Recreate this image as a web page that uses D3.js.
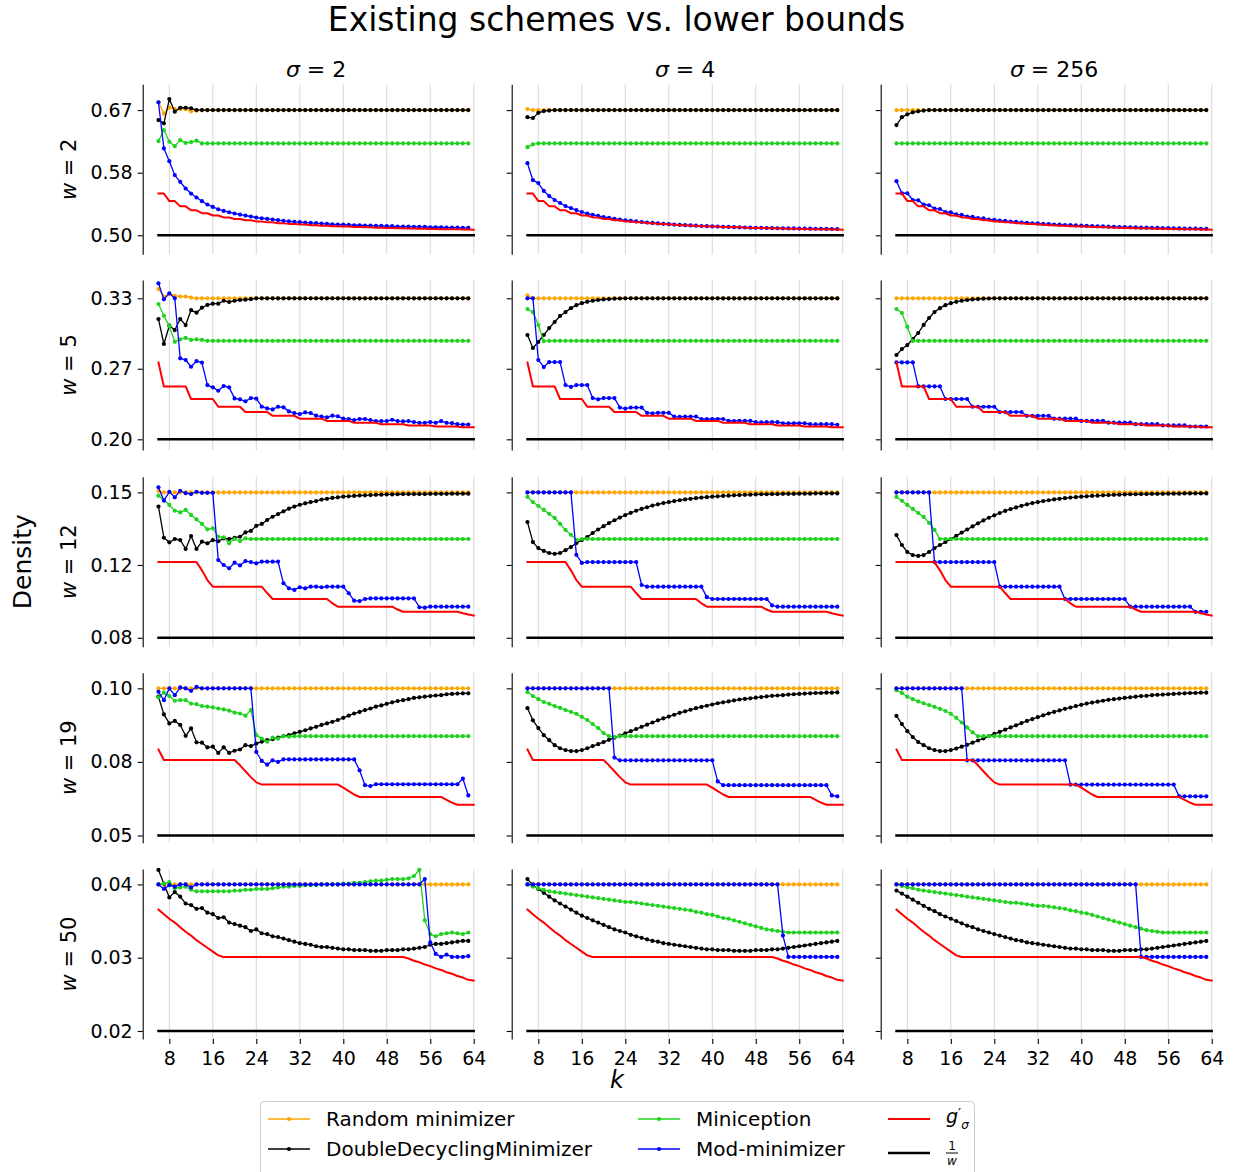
<!DOCTYPE html>
<html>
<head>
<meta charset="utf-8">
<script src="https://cdn.jsdelivr.net/npm/d3@7"></script>
<style>
body { margin: 0; background: #fff; }
svg text { font-family: "DejaVu Sans", sans-serif; fill: #000; }
</style>
</head>
<body>
<svg id="chart" width="1233" height="1172"></svg>
<script>
// k values: minimizer series run 6..63, bound lines 6..64
const kSeries = [6,7,8,9,10,11,12,13,14,15,16,17,18,19,20,21,22,23,24,25,26,27,28,29,30,31,32,33,34,35,
  36,37,38,39,40,41,42,43,44,45,46,47,48,49,50,51,52,53,54,55,56,57,58,59,60,61,62,63];
const kBound = [6,7,8,9,10,11,12,13,14,15,16,17,18,19,20,21,22,23,24,25,26,27,28,29,30,31,32,33,34,35,
  36,37,38,39,40,41,42,43,44,45,46,47,48,49,50,51,52,53,54,55,56,57,58,59,60,61,62,63,64];
const xTicks = [8,16,24,32,40,48,56,64];
const sigmas = ['2', '4', '256'];
const windows = [2, 5, 12, 19, 50];
const invW = [0.5, 0.2, 0.0833, 0.0526, 0.02];
const yTicks = [[0.5, 0.5833, 0.6667], [0.2, 0.2667, 0.3333], [0.0833, 0.1186, 0.1538],
  [0.0526, 0.0763, 0.1], [0.02, 0.0296, 0.0392]];

// ---------- w = 2 ----------
const red_w2 = [.5556,.5556,.5455,.5455,.5385,.5385,.5333,.5333,.5294,.5294,
  .5263,.5263,.5238,.5238,.5217,.5217,.5200,.5200,.5185,.5185,
  .5172,.5172,.5161,.5161,.5152,.5152,.5143,.5143,.5135,.5135,
  .5128,.5128,.5122,.5122,.5116,.5116,.5111,.5111,.5106,.5106,
  .5102,.5102,.5098,.5098,.5094,.5094,.5091,.5091,.5088,.5088,
  .5085,.5085,.5082,.5082,.5079,.5079,.5077,.5077,.5075];

const rnd_w2_s2 = [.677,.662,.670,.668,.668,.668,.665,.666,.6667,.6667,
  .6667,.6667,.6667,.6667,.6667,.6667,.6667,.6667,.6667,.6667,
  .6667,.6667,.6667,.6667,.6667,.6667,.6667,.6667,.6667,.6667,
  .6667,.6667,.6667,.6667,.6667,.6667,.6667,.6667,.6667,.6667,
  .6667,.6667,.6667,.6667,.6667,.6667,.6667,.6667,.6667,.6667,
  .6667,.6667,.6667,.6667,.6667,.6667,.6667,.6667];
const ddm_w2_s2 = [.6534,.649,.6814,.6645,.6698,.6698,.669,.6667,.6667,.6667,
  .6667,.6667,.6667,.6667,.6667,.6667,.6667,.6667,.6667,.6667,
  .6667,.6667,.6667,.6667,.6667,.6667,.6667,.6667,.6667,.6667,
  .6667,.6667,.6667,.6667,.6667,.6667,.6667,.6667,.6667,.6667,
  .6667,.6667,.6667,.6667,.6667,.6667,.6667,.6667,.6667,.6667,
  .6667,.6667,.6667,.6667,.6667,.6667,.6667,.6667];
const mini_w2_s2 = [.6254,.6401,.6245,.6187,.6267,.623,.624,.626,.6223,.6223,
  .6223,.6223,.6223,.6223,.6223,.6223,.6223,.6223,.6223,.6223,
  .6223,.6223,.6223,.6223,.6223,.6223,.6223,.6223,.6223,.6223,
  .6223,.6223,.6223,.6223,.6223,.6223,.6223,.6223,.6223,.6223,
  .6223,.6223,.6223,.6223,.6223,.6223,.6223,.6223,.6223,.6223,
  .6223,.6223,.6223,.6223,.6223,.6223,.6223,.6223];
const mod_w2_s2 = [.6770,.6156,.5987,.5801,.5712,.5623,.5556,.5503,.5454,.5410,
  .5378,.5347,.5325,.5307,.5290,.5276,.5263,.5250,.5236,.5227,
  .5218,.5210,.5201,.5192,.5187,.5178,.5174,.5170,.5165,.5161,
  .5156,.5152,.5147,.5143,.5143,.5138,.5134,.5134,.5129,.5129,
  .5125,.5125,.5121,.5121,.5116,.5116,.5116,.5112,.5112,.5112,
  .5107,.5107,.5107,.5103,.5103,.5103,.5098,.5098];

const rnd_w2_s4 = [.668,.6667,.6667,.6667,.6667,.6667,.6667,.6667,.6667,.6667,
  .6667,.6667,.6667,.6667,.6667,.6667,.6667,.6667,.6667,.6667,
  .6667,.6667,.6667,.6667,.6667,.6667,.6667,.6667,.6667,.6667,
  .6667,.6667,.6667,.6667,.6667,.6667,.6667,.6667,.6667,.6667,
  .6667,.6667,.6667,.6667,.6667,.6667,.6667,.6667,.6667,.6667,
  .6667,.6667,.6667,.6667,.6667,.6667,.6667,.6667];
const ddm_w2_s4 = [.6573,.656,.663,.6654,.666,.6667,.6667,.6667,.6667,.6667,
  .6667,.6667,.6667,.6667,.6667,.6667,.6667,.6667,.6667,.6667,
  .6667,.6667,.6667,.6667,.6667,.6667,.6667,.6667,.6667,.6667,
  .6667,.6667,.6667,.6667,.6667,.6667,.6667,.6667,.6667,.6667,
  .6667,.6667,.6667,.6667,.6667,.6667,.6667,.6667,.6667,.6667,
  .6667,.6667,.6667,.6667,.6667,.6667,.6667,.6667];
const mini_w2_s4 = [.6173,.621,.6223,.6223,.6223,.6223,.6223,.6223,.6223,.6223,
  .6223,.6223,.6223,.6223,.6223,.6223,.6223,.6223,.6223,.6223,
  .6223,.6223,.6223,.6223,.6223,.6223,.6223,.6223,.6223,.6223,
  .6223,.6223,.6223,.6223,.6223,.6223,.6223,.6223,.6223,.6223,
  .6223,.6223,.6223,.6223,.6223,.6223,.6223,.6223,.6223,.6223,
  .6223,.6223,.6223,.6223,.6223,.6223,.6223,.6223];
const mod_w2_s4 = [.596,.5735,.5695,.559,.5522,.547,.543,.5389,.5363,.5336,
  .531,.5290,.5272,.5258,.5243,.5232,.5220,.5210,.5200,.5192,
  .5184,.5177,.5170,.5164,.5158,.5153,.5148,.5143,.5139,.5135,
  .5131,.5128,.5124,.5121,.5118,.5116,.5113,.5111,.5108,.5106,
  .5104,.5102,.5100,.5099,.5097,.5096,.5094,.5093,.5092,.5091,
  .5090,.5089,.5088,.5087,.5086,.5085,.5084,.5083];

const rnd_w2_s256 = [.6667,.6667,.6667,.6667,.6667,.6667,.6667,.6667,.6667,.6667,
  .6667,.6667,.6667,.6667,.6667,.6667,.6667,.6667,.6667,.6667,
  .6667,.6667,.6667,.6667,.6667,.6667,.6667,.6667,.6667,.6667,
  .6667,.6667,.6667,.6667,.6667,.6667,.6667,.6667,.6667,.6667,
  .6667,.6667,.6667,.6667,.6667,.6667,.6667,.6667,.6667,.6667,
  .6667,.6667,.6667,.6667,.6667,.6667,.6667,.6667];
const ddm_w2_s256 = [.6467,.6573,.661,.6637,.665,.666,.6667,.6667,.6667,.6667,
  .6667,.6667,.6667,.6667,.6667,.6667,.6667,.6667,.6667,.6667,
  .6667,.6667,.6667,.6667,.6667,.6667,.6667,.6667,.6667,.6667,
  .6667,.6667,.6667,.6667,.6667,.6667,.6667,.6667,.6667,.6667,
  .6667,.6667,.6667,.6667,.6667,.6667,.6667,.6667,.6667,.6667,
  .6667,.6667,.6667,.6667,.6667,.6667,.6667,.6667];
const mini_w2_s256 = [.6223,.6223,.6223,.6223,.6223,.6223,.6223,.6223,.6223,.6223,
  .6223,.6223,.6223,.6223,.6223,.6223,.6223,.6223,.6223,.6223,
  .6223,.6223,.6223,.6223,.6223,.6223,.6223,.6223,.6223,.6223,
  .6223,.6223,.6223,.6223,.6223,.6223,.6223,.6223,.6223,.6223,
  .6223,.6223,.6223,.6223,.6223,.6223,.6223,.6223,.6223,.6223,
  .6223,.6223,.6223,.6223,.6223,.6223,.6223,.6223];
const mod_w2_s256 = [.572,.556,.556,.547,.5465,.541,.540,.5355,.535,.531,
  .5305,.5278,.5272,.5250,.5245,.5228,.5224,.5210,.5206,.5195,
  .5192,.5182,.5179,.5170,.5167,.5160,.5158,.5152,.5150,.5144,
  .5142,.5137,.5135,.5131,.5129,.5125,.5123,.5120,.5118,.5115,
  .5113,.5110,.5109,.5106,.5105,.5102,.5101,.5099,.5098,.5096,
  .5095,.5093,.5092,.5090,.5089,.5088,.5087,.5086];

// ---------- w = 5 ----------
const red_w5 = [.2727,.25,.25,.25,.25,.25,.2381,.2381,.2381,.2381,
  .2381,.2308,.2308,.2308,.2308,.2308,.2258,.2258,.2258,.2258,
  .2258,.2222,.2222,.2222,.2222,.2222,.2195,.2195,.2195,.2195,
  .2195,.2174,.2174,.2174,.2174,.2174,.2157,.2157,.2157,.2157,
  .2157,.2143,.2143,.2143,.2143,.2143,.2131,.2131,.2131,.2131,
  .2131,.2121,.2121,.2121,.2121,.2121,.2113,.2113,.2113];

const rnd_w5_s2 = [.342,.335,.3374,.3355,.335,.335,.334,.3333,.3333,.3333,
  .3333,.3333,.3333,.3333,.3333,.3333,.3333,.3333,.3333,.3333,
  .3333,.3333,.3333,.3333,.3333,.3333,.3333,.3333,.3333,.3333,
  .3333,.3333,.3333,.3333,.3333,.3333,.3333,.3333,.3333,.3333,
  .3333,.3333,.3333,.3333,.3333,.3333,.3333,.3333,.3333,.3333,
  .3333,.3333,.3333,.3333,.3333,.3333,.3333,.3333];
const ddm_w5_s2 = [.3137,.2901,.3074,.3033,.3137,.308,.3222,.3197,.3244,.327,
  .3282,.3282,.331,.3298,.331,.3317,.332,.3325,.3333,.3333,
  .3333,.3333,.3333,.3333,.3333,.3333,.3333,.3333,.3333,.3333,
  .3333,.3333,.3333,.3333,.3333,.3333,.3333,.3333,.3333,.3333,
  .3333,.3333,.3333,.3333,.3333,.3333,.3333,.3333,.3333,.3333,
  .3333,.3333,.3333,.3333,.3333,.3333,.3333,.3333];
const mini_w5_s2 = [.3279,.3168,.307,.2922,.2945,.2958,.294,.2945,.294,.2931,
  .2931,.2931,.2931,.2931,.2931,.2931,.2931,.2931,.2931,.2931,
  .2931,.2931,.2931,.2931,.2931,.2931,.2931,.2931,.2931,.2931,
  .2931,.2931,.2931,.2931,.2931,.2931,.2931,.2931,.2931,.2931,
  .2931,.2931,.2931,.2931,.2931,.2931,.2931,.2931,.2931,.2931,
  .2931,.2931,.2931,.2931,.2931,.2931,.2931,.2931];
const mod_w5_s2 = [.3475,.3323,.338,.3333,.2766,.275,.2686,.274,.2725,.2513,
  .2491,.2459,.2504,.2491,.2387,.2378,.2359,.2390,.2384,.2308,
  .2292,.2283,.2308,.2302,.2264,.2248,.2239,.2255,.2248,.2223,
  .2214,.2207,.2223,.2217,.2195,.2192,.2182,.2192,.2192,.2182,
  .2172,.2172,.2172,.2185,.2172,.2169,.2172,.2163,.2156,.2156,
  .2163,.2156,.2172,.2156,.2153,.2143,.2140,.2140];

const rnd_w5_s4 = [.336,.3333,.3333,.3333,.3333,.3333,.3333,.3333,.3333,.3333,
  .3333,.3333,.3333,.3333,.3333,.3333,.3333,.3333,.3333,.3333,
  .3333,.3333,.3333,.3333,.3333,.3333,.3333,.3333,.3333,.3333,
  .3333,.3333,.3333,.3333,.3333,.3333,.3333,.3333,.3333,.3333,
  .3333,.3333,.3333,.3333,.3333,.3333,.3333,.3333,.3333,.3333,
  .3333,.3333,.3333,.3333,.3333,.3333,.3333,.3333];
const ddm_w5_s4 = [.2986,.2863,.292,.2986,.3052,.3109,.3166,.3203,.3240,.3268,
  .3287,.3300,.3310,.3317,.3322,.3326,.3329,.3331,.3333,.3333,
  .3333,.3333,.3333,.3333,.3333,.3333,.3333,.3333,.3333,.3333,
  .3333,.3333,.3333,.3333,.3333,.3333,.3333,.3333,.3333,.3333,
  .3333,.3333,.3333,.3333,.3333,.3333,.3333,.3333,.3333,.3333,
  .3333,.3333,.3333,.3333,.3333,.3333,.3333,.3333];
const mini_w5_s4 = [.3232,.3203,.308,.2929,.2931,.2931,.2931,.2931,.2931,.2931,
  .2931,.2931,.2931,.2931,.2931,.2931,.2931,.2931,.2931,.2931,
  .2931,.2931,.2931,.2931,.2931,.2931,.2931,.2931,.2931,.2931,
  .2931,.2931,.2931,.2931,.2931,.2931,.2931,.2931,.2931,.2931,
  .2931,.2931,.2931,.2931,.2931,.2931,.2931,.2931,.2931,.2931,
  .2931,.2931,.2931,.2931,.2931,.2931,.2931,.2931];
const mod_w5_s4 = [.3333,.3333,.275,.2683,.273,.273,.273,.2513,.2495,.2513,
  .2513,.2513,.2390,.2378,.2390,.2390,.2390,.2300,.2290,.2300,
  .2300,.2300,.2250,.2245,.2250,.2250,.2250,.2215,.2212,.2215,
  .2215,.2215,.2192,.2190,.2192,.2192,.2192,.2175,.2173,.2175,
  .2175,.2175,.2162,.2160,.2162,.2162,.2162,.2152,.2150,.2152,
  .2152,.2152,.2143,.2142,.2143,.2143,.2143,.2137];

const rnd_w5_s256 = [.3333,.3333,.3333,.3333,.3333,.3333,.3333,.3333,.3333,.3333,
  .3333,.3333,.3333,.3333,.3333,.3333,.3333,.3333,.3333,.3333,
  .3333,.3333,.3333,.3333,.3333,.3333,.3333,.3333,.3333,.3333,
  .3333,.3333,.3333,.3333,.3333,.3333,.3333,.3333,.3333,.3333,
  .3333,.3333,.3333,.3333,.3333,.3333,.3333,.3333,.3333,.3333,
  .3333,.3333,.3333,.3333,.3333,.3333,.3333,.3333];
const ddm_w5_s256 = [.2797,.2853,.2891,.2948,.3005,.3081,.3147,.3203,.3240,.3268,
  .3287,.3300,.3310,.3317,.3322,.3326,.3329,.3331,.3333,.3333,
  .3333,.3333,.3333,.3333,.3333,.3333,.3333,.3333,.3333,.3333,
  .3333,.3333,.3333,.3333,.3333,.3333,.3333,.3333,.3333,.3333,
  .3333,.3333,.3333,.3333,.3333,.3333,.3333,.3333,.3333,.3333,
  .3333,.3333,.3333,.3333,.3333,.3333,.3333,.3333];
const mini_w5_s256 = [.3232,.3194,.3062,.2929,.2931,.2931,.2931,.2931,.2931,.2931,
  .2931,.2931,.2931,.2931,.2931,.2931,.2931,.2931,.2931,.2931,
  .2931,.2931,.2931,.2931,.2931,.2931,.2931,.2931,.2931,.2931,
  .2931,.2931,.2931,.2931,.2931,.2931,.2931,.2931,.2931,.2931,
  .2931,.2931,.2931,.2931,.2931,.2931,.2931,.2931,.2931,.2931,
  .2931,.2931,.2931,.2931,.2931,.2931,.2931,.2931];
const mod_w5_s256 = [.2727,.2727,.2727,.2727,.25,.25,.25,.25,.25,.2381,
  .2381,.2381,.2381,.2381,.2308,.2308,.2308,.2308,.2308,.2258,
  .2258,.2258,.2258,.2258,.2222,.2222,.2222,.2222,.2222,.2195,
  .2195,.2195,.2195,.2195,.2174,.2174,.2174,.2174,.2174,.2157,
  .2157,.2157,.2157,.2157,.2143,.2143,.2143,.2143,.2143,.2131,
  .2131,.2131,.2131,.2131,.2121,.2121,.2121,.2121];

// ---------- w = 12 ----------
const red_w12 = [.1200,.1200,.1200,.1200,.1200,.1200,.1200,.1200,.1160,.1113,
  .1081,.1081,.1081,.1081,.1081,.1081,.1081,.1081,.1081,.1081,
  .1050,.1021,.1021,.1021,.1021,.1021,.1021,.1021,.1021,.1021,
  .1021,.1021,.1000,.0984,.0984,.0984,.0984,.0984,.0984,.0984,
  .0984,.0984,.0984,.0984,.0970,.0959,.0959,.0959,.0959,.0959,
  .0959,.0959,.0959,.0959,.0959,.0959,.0952,.0946,.0941];

const rnd_w12_s2 = [.1545,.1538,.1538,.1538,.1538,.1538,.1538,.1538,.1538,.1538,
  .1538,.1538,.1538,.1538,.1538,.1538,.1538,.1538,.1538,.1538,
  .1538,.1538,.1538,.1538,.1538,.1538,.1538,.1538,.1538,.1538,
  .1538,.1538,.1538,.1538,.1538,.1538,.1538,.1538,.1538,.1538,
  .1538,.1538,.1538,.1538,.1538,.1538,.1538,.1538,.1538,.1538,
  .1538,.1538,.1538,.1538,.1538,.1538,.1538,.1538];
const ddm_w12_s2 = [.1469,.1318,.1296,.1312,.1307,.1264,.1326,.1264,.1299,.1291,
  .1307,.1301,.1315,.1312,.1318,.1323,.1344,.1351,.1376,.1385,
  .1404,.1420,.1433,.1446,.1459,.1469,.1478,.1485,.1491,.1496,
  .1503,.1507,.1511,.1514,.1517,.1519,.1521,.1523,.1524,.1525,
  .1526,.1527,.1528,.1528,.1529,.1530,.1530,.1530,.1530,.1530,
  .1531,.1531,.1531,.1531,.1532,.1532,.1532,.1532];
const mini_w12_s2 = [.1522,.1501,.1477,.1449,.1441,.1453,.1428,.1407,.1385,.1359,
  .1364,.1323,.1320,.1291,.1312,.1302,.1315,.1312,.1312,.1312,
  .1312,.1312,.1312,.1312,.1312,.1312,.1312,.1312,.1312,.1312,
  .1312,.1312,.1312,.1312,.1312,.1312,.1312,.1312,.1312,.1312,
  .1312,.1312,.1312,.1312,.1312,.1312,.1312,.1312,.1312,.1312,
  .1312,.1312,.1312,.1312,.1312,.1312,.1312,.1312];
const mod_w12_s2 = [.1563,.1498,.1541,.1514,.1546,.1534,.1530,.1541,.1536,.1536,
  .1536,.1210,.1186,.1170,.1197,.1184,.1205,.1200,.1194,.1202,
  .1202,.1202,.1202,.1097,.1073,.1065,.1078,.1073,.1081,.1081,
  .1078,.1081,.1081,.1081,.1081,.1049,.1013,.1011,.1021,.1024,
  .1024,.1024,.1024,.1024,.1024,.1024,.1024,.1024,.0981,.0979,
  .0984,.0984,.0984,.0984,.0984,.0984,.0984,.0984];

const rnd_w12_s4 = [.1538,.1538,.1538,.1538,.1538,.1538,.1538,.1538,.1538,.1538,
  .1538,.1538,.1538,.1538,.1538,.1538,.1538,.1538,.1538,.1538,
  .1538,.1538,.1538,.1538,.1538,.1538,.1538,.1538,.1538,.1538,
  .1538,.1538,.1538,.1538,.1538,.1538,.1538,.1538,.1538,.1538,
  .1538,.1538,.1538,.1538,.1538,.1538,.1538,.1538,.1538,.1538,
  .1538,.1538,.1538,.1538,.1538,.1538,.1538,.1538];
const ddm_w12_s4 = [.1394,.1297,.1268,.1254,.1244,.1240,.1244,.1258,.1273,.1292,
  .1307,.1321,.1341,.1358,.1374,.1389,.1403,.1416,.1428,.1439,
  .1449,.1458,.1466,.1474,.1480,.1486,.1491,.1496,.1500,.1504,
  .1507,.1510,.1513,.1515,.1517,.1519,.1521,.1522,.1524,.1525,
  .1526,.1527,.1528,.1529,.1529,.1530,.1530,.1531,.1531,.1531,
  .1532,.1532,.1532,.1533,.1533,.1533,.1533,.1533];
const mini_w12_s4 = [.1516,.1491,.1472,.1453,.1434,.1414,.1385,.1356,.1332,.1307,
  .1312,.1312,.1312,.1312,.1312,.1312,.1312,.1312,.1312,.1312,
  .1312,.1312,.1312,.1312,.1312,.1312,.1312,.1312,.1312,.1312,
  .1312,.1312,.1312,.1312,.1312,.1312,.1312,.1312,.1312,.1312,
  .1312,.1312,.1312,.1312,.1312,.1312,.1312,.1312,.1312,.1312,
  .1312,.1312,.1312,.1312,.1312,.1312,.1312,.1312];
const mod_w12_s4 = [.1538,.1538,.1538,.1538,.1538,.1538,.1538,.1538,.1538,.1235,
  .1196,.1200,.1200,.1200,.1200,.1200,.1200,.1200,.1200,.1200,
  .1200,.1089,.1081,.1081,.1081,.1081,.1081,.1081,.1081,.1081,
  .1081,.1081,.1081,.1030,.1021,.1021,.1021,.1021,.1021,.1021,
  .1021,.1021,.1021,.1021,.1021,.0990,.0984,.0984,.0984,.0984,
  .0984,.0984,.0984,.0984,.0984,.0984,.0984,.0984];

const rnd_w12_s256 = [.1538,.1538,.1538,.1538,.1538,.1538,.1538,.1538,.1538,.1538,
  .1538,.1538,.1538,.1538,.1538,.1538,.1538,.1538,.1538,.1538,
  .1538,.1538,.1538,.1538,.1538,.1538,.1538,.1538,.1538,.1538,
  .1538,.1538,.1538,.1538,.1538,.1538,.1538,.1538,.1538,.1538,
  .1538,.1538,.1538,.1538,.1538,.1538,.1538,.1538,.1538,.1538,
  .1538,.1538,.1538,.1538,.1538,.1538,.1538,.1538];
const ddm_w12_s256 = [.1331,.1283,.1249,.1234,.1230,.1234,.1249,.1268,.1283,.1297,
  .1312,.1327,.1343,.1358,.1373,.1388,.1402,.1415,.1427,.1438,
  .1448,.1457,.1465,.1473,.1480,.1486,.1491,.1496,.1500,.1504,
  .1507,.1510,.1513,.1515,.1517,.1519,.1521,.1522,.1524,.1525,
  .1526,.1527,.1528,.1529,.1529,.1530,.1530,.1531,.1531,.1531,
  .1532,.1532,.1532,.1533,.1533,.1533,.1533,.1533];
const mini_w12_s256 = [.1516,.1497,.1477,.1458,.1438,.1419,.1390,.1356,.1312,.1312,
  .1312,.1312,.1312,.1312,.1312,.1312,.1312,.1312,.1312,.1312,
  .1312,.1312,.1312,.1312,.1312,.1312,.1312,.1312,.1312,.1312,
  .1312,.1312,.1312,.1312,.1312,.1312,.1312,.1312,.1312,.1312,
  .1312,.1312,.1312,.1312,.1312,.1312,.1312,.1312,.1312,.1312,
  .1312,.1312,.1312,.1312,.1312,.1312,.1312,.1312];
const mod_w12_s256 = [.1538,.1538,.1538,.1538,.1538,.1538,.1538,.1200,.1200,.1200,
  .1200,.1200,.1200,.1200,.1200,.1200,.1200,.1200,.1200,.1081,
  .1081,.1081,.1081,.1081,.1081,.1081,.1081,.1081,.1081,.1081,
  .1081,.1021,.1021,.1021,.1021,.1021,.1021,.1021,.1021,.1021,
  .1021,.1021,.1021,.0984,.0984,.0984,.0984,.0984,.0984,.0984,
  .0984,.0984,.0984,.0984,.0984,.0959,.0959,.0959];

// ---------- w = 19 ----------
const red_w19 = [.0803,.0769,.0769,.0769,.0769,.0769,.0769,.0769,.0769,.0769,
  .0769,.0769,.0769,.0769,.0769,.0752,.0733,.0714,.0697,.0690,
  .0690,.0690,.0690,.0690,.0690,.0690,.0690,.0690,.0690,.0690,
  .0690,.0690,.0690,.0690,.0680,.0669,.0658,.0650,.0650,.0650,
  .0650,.0650,.0650,.0650,.0650,.0650,.0650,.0650,.0650,.0650,
  .0650,.0650,.0650,.0641,.0632,.0625,.0625,.0625,.0625];

const rnd_w19_s2 = [.1000,.1000,.1000,.1000,.1000,.1000,.1000,.1000,.1000,.1000,
  .1000,.1000,.1000,.1000,.1000,.1000,.1000,.1000,.1000,.1000,
  .1000,.1000,.1000,.1000,.1000,.1000,.1000,.1000,.1000,.1000,
  .1000,.1000,.1000,.1000,.1000,.1000,.1000,.1000,.1000,.1000,
  .1000,.1000,.1000,.1000,.1000,.1000,.1000,.1000,.1000,.1000,
  .1000,.1000,.1000,.1000,.1000,.1000,.1000,.1000];
const ddm_w19_s2 = [.0973,.0916,.0887,.0895,.0882,.0847,.0871,.0826,.0825,.0810,
  .0812,.0792,.0810,.0792,.0799,.0803,.0817,.0814,.0822,.0828,
  .0833,.0836,.0841,.0846,.0849,.0855,.0860,.0865,.0871,.0876,
  .0882,.0887,.0892,.0898,.0905,.0912,.0919,.0924,.0930,.0935,
  .0941,.0945,.0950,.0955,.0959,.0962,.0965,.0969,.0971,.0973,
  .0975,.0977,.0978,.0981,.0982,.0983,.0984,.0984];
const mini_w19_s2 = [.0971,.0986,.0975,.0960,.0962,.0962,.0951,.0949,.0943,.0941,
  .0939,.0935,.0932,.0928,.0922,.0919,.0912,.0930,.0849,.0838,
  .0828,.0841,.0838,.0846,.0844,.0846,.0846,.0846,.0846,.0846,
  .0846,.0846,.0846,.0846,.0846,.0846,.0846,.0846,.0846,.0846,
  .0846,.0846,.0846,.0846,.0846,.0846,.0846,.0846,.0846,.0846,
  .0846,.0846,.0846,.0846,.0846,.0846,.0846,.0846];
const mod_w19_s2 = [.0989,.0962,.1000,.0978,.1003,.1000,.0992,.1005,.1000,.1000,
  .1000,.1000,.1000,.1000,.1000,.1000,.1000,.1000,.0795,.0766,
  .0754,.0768,.0763,.0771,.0771,.0771,.0771,.0771,.0771,.0771,
  .0771,.0771,.0771,.0771,.0771,.0771,.0771,.0736,.0688,.0685,
  .0691,.0691,.0691,.0691,.0691,.0691,.0691,.0691,.0691,.0691,
  .0691,.0691,.0691,.0691,.0691,.0691,.0709,.0655];

const rnd_w19_s4 = rnd_w19_s2.map(v => v);
const ddm_w19_s4 = [.0936,.0897,.0872,.0849,.0833,.0817,.0807,.0801,.0798,.0798,
  .0801,.0807,.0814,.0820,.0827,.0834,.0841,.0848,.0855,.0862,
  .0869,.0876,.0883,.0890,.0897,.0903,.0909,.0915,.0921,.0926,
  .0931,.0936,.0940,.0944,.0948,.0952,.0955,.0958,.0961,.0964,
  .0966,.0968,.0970,.0972,.0974,.0976,.0977,.0978,.0980,.0981,
  .0982,.0983,.0984,.0985,.0985,.0986,.0986,.0987];
const mini_w19_s4 = [.0988,.0975,.0965,.0956,.0950,.0943,.0937,.0930,.0924,.0918,
  .0908,.0898,.0885,.0872,.0856,.0846,.0843,.0846,.0846,.0846,
  .0846,.0846,.0846,.0846,.0846,.0846,.0846,.0846,.0846,.0846,
  .0846,.0846,.0846,.0846,.0846,.0846,.0846,.0846,.0846,.0846,
  .0846,.0846,.0846,.0846,.0846,.0846,.0846,.0846,.0846,.0846,
  .0846,.0846,.0846,.0846,.0846,.0846,.0846,.0846];
const mod_w19_s4 = [.1000,.1000,.1000,.1000,.1000,.1000,.1000,.1000,.1000,.1000,
  .1000,.1000,.1000,.1000,.1000,.1000,.0777,.0768,.0768,.0768,
  .0768,.0768,.0768,.0768,.0768,.0768,.0768,.0768,.0768,.0768,
  .0768,.0768,.0768,.0768,.0768,.0700,.0688,.0688,.0688,.0688,
  .0688,.0688,.0688,.0688,.0688,.0688,.0688,.0688,.0688,.0688,
  .0688,.0688,.0688,.0688,.0688,.0688,.0655,.0652];

const rnd_w19_s256 = rnd_w19_s2.map(v => v);
const ddm_w19_s256 = [.0911,.0885,.0862,.0843,.0827,.0817,.0807,.0801,.0798,.0798,
  .0801,.0806,.0812,.0818,.0825,.0832,.0839,.0846,.0853,.0860,
  .0867,.0874,.0881,.0888,.0895,.0901,.0907,.0913,.0919,.0924,
  .0929,.0934,.0938,.0943,.0947,.0951,.0954,.0957,.0960,.0963,
  .0965,.0967,.0969,.0971,.0973,.0975,.0976,.0978,.0979,.0980,
  .0981,.0982,.0983,.0984,.0985,.0985,.0986,.0986];
const mini_w19_s256 = [.0994,.0985,.0973,.0965,.0958,.0952,.0946,.0940,.0934,.0927,
  .0918,.0905,.0890,.0874,.0858,.0846,.0846,.0846,.0846,.0846,
  .0846,.0846,.0846,.0846,.0846,.0846,.0846,.0846,.0846,.0846,
  .0846,.0846,.0846,.0846,.0846,.0846,.0846,.0846,.0846,.0846,
  .0846,.0846,.0846,.0846,.0846,.0846,.0846,.0846,.0846,.0846,
  .0846,.0846,.0846,.0846,.0846,.0846,.0846,.0846];
const mod_w19_s256 = [.1000,.1000,.1000,.1000,.1000,.1000,.1000,.1000,.1000,.1000,
  .1000,.1000,.1000,.0768,.0768,.0768,.0768,.0768,.0768,.0768,
  .0768,.0768,.0768,.0768,.0768,.0768,.0768,.0768,.0768,.0768,
  .0768,.0768,.0690,.0690,.0690,.0690,.0690,.0690,.0690,.0690,
  .0690,.0690,.0690,.0690,.0690,.0690,.0690,.0690,.0690,.0690,
  .0690,.0690,.0652,.0652,.0652,.0652,.0652,.0652];

// ---------- w = 50 ----------
const red_w50 = [.0359,.0353,.0347,.0342,.0336,.0330,.0325,.0319,.0314,.0309,
  .0304,.0299,.0297,.0297,.0297,.0297,.0297,.0297,.0297,.0297,
  .0297,.0297,.0297,.0297,.0297,.0297,.0297,.0297,.0297,.0297,
  .0297,.0297,.0297,.0297,.0297,.0297,.0297,.0297,.0297,.0297,
  .0297,.0297,.0297,.0297,.0297,.0297,.0295,.0292,.0290,.0287,
  .0285,.0282,.0280,.0277,.0275,.0272,.0270,.0267,.0266];

const rnd_w50_s2 = [.0392,.0392,.0392,.0392,.0392,.0392,.0392,.0392,.0392,.0392,
  .0392,.0392,.0392,.0392,.0392,.0392,.0392,.0392,.0392,.0392,
  .0392,.0392,.0392,.0392,.0392,.0392,.0392,.0392,.0392,.0392,
  .0392,.0392,.0392,.0392,.0392,.0392,.0392,.0392,.0392,.0392,
  .0392,.0392,.0392,.0392,.0392,.0392,.0392,.0392,.0392,.0392,
  .0392,.0392,.0392,.0392,.0392,.0392,.0392,.0392];
const ddm_w50_s2 = [.0411,.0393,.0375,.0382,.0376,.0367,.0365,.0360,.0361,.0355,
  .0353,.0348,.0349,.0342,.0340,.0338,.0336,.0331,.0333,.0328,
  .0327,.0324,.0323,.0321,.0319,.0317,.0315,.0314,.0313,.0311,
  .0310,.0310,.0309,.0308,.0307,.0307,.0306,.0306,.0306,.0305,
  .0305,.0305,.0306,.0306,.0306,.0307,.0307,.0308,.0309,.0310,
  .0313,.0314,.0314,.0315,.0316,.0317,.0318,.0318];
const mini_w50_s2 = [.0392,.0393,.0395,.0387,.0388,.0389,.0385,.0383,.0383,.0383,
  .0383,.0383,.0383,.0383,.0384,.0384,.0385,.0385,.0386,.0386,
  .0386,.0387,.0388,.0389,.0389,.0390,.0390,.0391,.0391,.0391,
  .0392,.0392,.0392,.0392,.0393,.0393,.0394,.0394,.0395,.0396,
  .0397,.0397,.0398,.0399,.0399,.0399,.0400,.0403,.0411,.0345,
  .0327,.0324,.0327,.0328,.0329,.0328,.0327,.0329];
const mod_w50_s2 = [.0392,.0386,.0391,.0389,.0392,.0392,.0388,.0392,.0392,.0392,
  .0392,.0392,.0392,.0392,.0392,.0392,.0392,.0392,.0392,.0392,
  .0392,.0392,.0392,.0392,.0392,.0392,.0392,.0392,.0392,.0392,
  .0392,.0392,.0392,.0392,.0392,.0392,.0392,.0392,.0392,.0392,
  .0392,.0392,.0392,.0392,.0392,.0392,.0392,.0392,.0392,.0399,
  .0316,.0301,.0297,.0300,.0297,.0297,.0297,.0298];

const rnd_w50_s4 = rnd_w50_s2.map(v => v);
const ddm_w50_s4 = [.0399,.0391,.0386,.0381,.0376,.0371,.0367,.0363,.0359,.0355,
  .0351,.0348,.0345,.0342,.0339,.0336,.0333,.0331,.0329,.0326,
  .0324,.0322,.0320,.0318,.0317,.0315,.0314,.0313,.0312,.0311,
  .0310,.0309,.0308,.0307,.0307,.0306,.0306,.0306,.0305,.0305,
  .0305,.0305,.0306,.0306,.0306,.0307,.0307,.0308,.0309,.0310,
  .0311,.0312,.0313,.0314,.0315,.0316,.0317,.0318];
const mini_w50_s4 = [.0392,.0389,.0387,.0385,.0383,.0382,.0381,.0380,.0379,.0378,
  .0377,.0376,.0375,.0374,.0373,.0372,.0371,.0370,.0369,.0369,
  .0368,.0367,.0366,.0365,.0364,.0363,.0362,.0361,.0360,.0359,
  .0358,.0356,.0355,.0353,.0352,.0350,.0348,.0347,.0345,.0343,
  .0341,.0339,.0337,.0335,.0333,.0332,.0331,.0330,.0329,.0329,
  .0329,.0329,.0329,.0329,.0329,.0329,.0329,.0329];
const mod_w50_s4 = [.0392,.0392,.0392,.0392,.0392,.0392,.0392,.0392,.0392,.0392,
  .0392,.0392,.0392,.0392,.0392,.0392,.0392,.0392,.0392,.0392,
  .0392,.0392,.0392,.0392,.0392,.0392,.0392,.0392,.0392,.0392,
  .0392,.0392,.0392,.0392,.0392,.0392,.0392,.0392,.0392,.0392,
  .0392,.0392,.0392,.0392,.0392,.0392,.0392,.0325,.0297,.0297,
  .0297,.0297,.0297,.0297,.0297,.0297,.0297,.0297];

const rnd_w50_s256 = rnd_w50_s2.map(v => v);
const ddm_w50_s256 = [.0384,.0380,.0376,.0372,.0368,.0364,.0360,.0357,.0353,.0350,
  .0347,.0344,.0341,.0338,.0336,.0333,.0331,.0329,.0327,.0325,
  .0323,.0321,.0319,.0318,.0316,.0315,.0314,.0313,.0312,.0311,
  .0310,.0309,.0308,.0308,.0307,.0307,.0306,.0306,.0306,.0305,
  .0305,.0305,.0306,.0306,.0306,.0307,.0307,.0308,.0309,.0310,
  .0311,.0312,.0313,.0314,.0315,.0316,.0317,.0318];
const mini_w50_s256 = [.0392,.0390,.0388,.0387,.0385,.0384,.0383,.0382,.0381,.0380,
  .0379,.0378,.0377,.0376,.0375,.0374,.0373,.0372,.0371,.0370,
  .0369,.0368,.0368,.0367,.0366,.0365,.0364,.0364,.0363,.0362,
  .0361,.0360,.0358,.0357,.0355,.0354,.0352,.0350,.0348,.0346,
  .0344,.0342,.0340,.0338,.0336,.0334,.0332,.0331,.0330,.0329,
  .0329,.0329,.0329,.0329,.0329,.0329,.0329,.0329];
const mod_w50_s256 = [.0392,.0392,.0392,.0392,.0392,.0392,.0392,.0392,.0392,.0392,
  .0392,.0392,.0392,.0392,.0392,.0392,.0392,.0392,.0392,.0392,
  .0392,.0392,.0392,.0392,.0392,.0392,.0392,.0392,.0392,.0392,
  .0392,.0392,.0392,.0392,.0392,.0392,.0392,.0392,.0392,.0392,
  .0392,.0392,.0392,.0392,.0392,.0297,.0297,.0297,.0297,.0297,
  .0297,.0297,.0297,.0297,.0297,.0297,.0297,.0297];

// ---------- assemble ----------
const boundRows = [red_w2, red_w5, red_w12, red_w19, red_w50];
const seriesRows = [
  [[rnd_w2_s2, ddm_w2_s2, mini_w2_s2, mod_w2_s2], [rnd_w2_s4, ddm_w2_s4, mini_w2_s4, mod_w2_s4], [rnd_w2_s256, ddm_w2_s256, mini_w2_s256, mod_w2_s256]],
  [[rnd_w5_s2, ddm_w5_s2, mini_w5_s2, mod_w5_s2], [rnd_w5_s4, ddm_w5_s4, mini_w5_s4, mod_w5_s4], [rnd_w5_s256, ddm_w5_s256, mini_w5_s256, mod_w5_s256]],
  [[rnd_w12_s2, ddm_w12_s2, mini_w12_s2, mod_w12_s2], [rnd_w12_s4, ddm_w12_s4, mini_w12_s4, mod_w12_s4], [rnd_w12_s256, ddm_w12_s256, mini_w12_s256, mod_w12_s256]],
  [[rnd_w19_s2, ddm_w19_s2, mini_w19_s2, mod_w19_s2], [rnd_w19_s4, ddm_w19_s4, mini_w19_s4, mod_w19_s4], [rnd_w19_s256, ddm_w19_s256, mini_w19_s256, mod_w19_s256]],
  [[rnd_w50_s2, ddm_w50_s2, mini_w50_s2, mod_w50_s2], [rnd_w50_s4, ddm_w50_s4, mini_w50_s4, mod_w50_s4], [rnd_w50_s256, ddm_w50_s256, mini_w50_s256, mod_w50_s256]]
];

const seriesNames = ['Random minimizer', 'DoubleDecyclingMinimizer', 'Miniception', 'Mod-minimizer'];
const seriesColors = ['#ffa500', '#000000', '#1ed21e', '#0000ff'];

// ---------- layout ----------
const colLeft = [142.7, 511.7, 880.7];
const axW = 346.8;
const xLim = [3.1, 66.9];
const rowTop = [84.3, 280, 476.7, 672.7, 869];
const axH = 170;
const yLims = [[0.4747, 0.701], [0.1899, 0.3506], [0.07897, 0.16141], [0.05027, 0.10504], [0.01895, 0.04122]];

const svg = d3.select('#chart');
svg.append('rect').attr('width', 1233).attr('height', 1172).attr('fill', '#fff');

const fmt = d3.format('.2f');

function drawPanel(r, c) {
  const top = rowTop[r], bottom = rowTop[r] + axH, left = colLeft[c];
  const x = d3.scaleLinear().domain(xLim).range([left, left + axW]);
  const y = d3.scaleLinear().domain(yLims[r]).range([bottom, top]);
  const g = svg.append('g').attr('class', 'panel');

  // vertical grid
  g.selectAll('.grid').data(xTicks).enter().append('line')
    .attr('class', 'grid')
    .attr('x1', d => x(d)).attr('x2', d => x(d))
    .attr('y1', top).attr('y2', bottom)
    .attr('stroke', '#b0b0b0').attr('stroke-opacity', 0.5).attr('stroke-width', 1);

  // left spine + ticks (labels only on the first column, y is shared)
  const yAxis = d3.axisLeft(y).tickValues(yTicks[r])
    .tickFormat(c === 0 ? fmt : () => '')
    .tickSize(5).tickSizeOuter(0).tickPadding(5);
  const yG = g.append('g').attr('transform', `translate(${left},0)`).call(yAxis);
  yG.select('.domain').attr('stroke', '#000').attr('stroke-width', 1.1);
  yG.selectAll('.tick line').attr('stroke', '#000').attr('stroke-width', 1.1);
  yG.selectAll('.tick text').attr('font-size', 19).attr('font-family', 'DejaVu Sans');

  if (r === rowTop.length - 1) {
    const xAxis = d3.axisBottom(x).tickValues(xTicks).tickSize(5).tickPadding(8);
    const xG = g.append('g').attr('transform', `translate(0,${bottom})`).call(xAxis);
    xG.select('.domain').remove();
    xG.selectAll('.tick line').attr('stroke', '#000').attr('stroke-width', 1.1);
    xG.selectAll('.tick text').attr('font-size', 19).attr('font-family', 'DejaVu Sans');
  }

  const line = d3.line().x((d, i) => x(kSeries[i])).y(d => y(d));
  seriesRows[r][c].forEach((vals, s) => {
    g.append('path').datum(vals)
      .attr('d', line).attr('fill', 'none')
      .attr('stroke', seriesColors[s]).attr('stroke-width', 1.3)
      .attr('stroke-linejoin', 'round');
    g.selectAll(null).data(vals).enter().append('circle')
      .attr('cx', (d, i) => x(kSeries[i])).attr('cy', d => y(d))
      .attr('r', 2.1).attr('fill', seriesColors[s]);
  });

  const bline = d3.line().x((d, i) => x(kBound[i])).y(d => y(d));
  g.append('path').datum(boundRows[r])
    .attr('d', bline).attr('fill', 'none')
    .attr('stroke', '#ff0000').attr('stroke-width', 2)
    .attr('stroke-linejoin', 'round').attr('stroke-linecap', 'square');

  g.append('line')
    .attr('x1', x(kBound[0])).attr('x2', x(kBound[kBound.length - 1]))
    .attr('y1', y(invW[r])).attr('y2', y(invW[r]))
    .attr('stroke', '#000').attr('stroke-width', 2.4).attr('stroke-linecap', 'square');
}

for (let r = 0; r < windows.length; r++) {
  for (let c = 0; c < sigmas.length; c++) drawPanel(r, c);
}

// ---------- titles ----------
svg.append('text').attr('x', 616.5).attr('y', 31).attr('text-anchor', 'middle')
  .attr('font-size', 33).text('Existing schemes vs. lower bounds');

sigmas.forEach((s, c) => {
  const t = svg.append('text').attr('x', colLeft[c] + 173.4).attr('y', 77)
    .attr('text-anchor', 'middle').attr('font-size', 22);
  t.append('tspan').attr('font-style', 'italic').text('σ');
  t.append('tspan').text(' = ' + s);
});

windows.forEach((w, r) => {
  const cy = rowTop[r] + axH / 2;
  const t = svg.append('text').attr('transform', `translate(76,${cy}) rotate(-90)`)
    .attr('text-anchor', 'middle').attr('font-size', 21);
  t.append('tspan').attr('font-style', 'italic').text('w');
  t.append('tspan').text(' = ' + w);
});

svg.append('text').attr('transform', `translate(31,${(rowTop[0] + rowTop[4] + axH) / 2}) rotate(-90)`)
  .attr('text-anchor', 'middle').attr('font-size', 25).text('Density');

svg.append('text').attr('x', 617).attr('y', 1088).attr('text-anchor', 'middle')
  .attr('font-size', 24).attr('font-style', 'italic').text('k');

// ---------- legend ----------
const legend = svg.append('g');
legend.append('rect').attr('x', 260.5).attr('y', 1101.5).attr('width', 714).attr('height', 90)
  .attr('rx', 4).attr('fill', '#fff').attr('stroke', '#cccccc').attr('stroke-width', 1);

const legendCols = [268, 638, 888];
const legendRows = [1119, 1149];
seriesNames.forEach((name, s) => {
  const lx = legendCols[Math.floor(s / 2)], ly = legendRows[s % 2];
  legend.append('line').attr('x1', lx).attr('x2', lx + 42).attr('y1', ly).attr('y2', ly)
    .attr('stroke', seriesColors[s]).attr('stroke-width', 1.3);
  legend.append('circle').attr('cx', lx + 21).attr('cy', ly).attr('r', 2.1).attr('fill', seriesColors[s]);
  legend.append('text').attr('x', lx + 58).attr('y', ly + 7).attr('font-size', 20).text(name);
});

// g'_sigma as one text element (prime raised, sigma lowered just after it)
legend.append('line').attr('x1', 888).attr('x2', 930).attr('y1', 1119).attr('y2', 1119)
  .attr('stroke', '#ff0000').attr('stroke-width', 2);
const gs = legend.append('text').attr('x', 946).attr('y', 1123).attr('font-size', 19);
gs.append('tspan').attr('font-style', 'italic').text('g');
gs.append('tspan').attr('dy', -5).attr('font-size', 14).text('′');
gs.append('tspan').attr('dy', 11).attr('font-size', 12).attr('font-style', 'italic').text('σ');

// 1/w as a small stacked fraction
legend.append('line').attr('x1', 888).attr('x2', 930).attr('y1', 1153).attr('y2', 1153)
  .attr('stroke', '#000').attr('stroke-width', 2.4);
legend.append('text').attr('x', 952).attr('y', 1150).attr('text-anchor', 'middle').attr('font-size', 12).text('1');
legend.append('line').attr('x1', 946).attr('x2', 958).attr('y1', 1153).attr('y2', 1153)
  .attr('stroke', '#000').attr('stroke-width', 1);
legend.append('text').attr('x', 952).attr('y', 1165).attr('text-anchor', 'middle').attr('font-size', 12)
  .attr('font-style', 'italic').text('w');
</script>
</body>
</html>
